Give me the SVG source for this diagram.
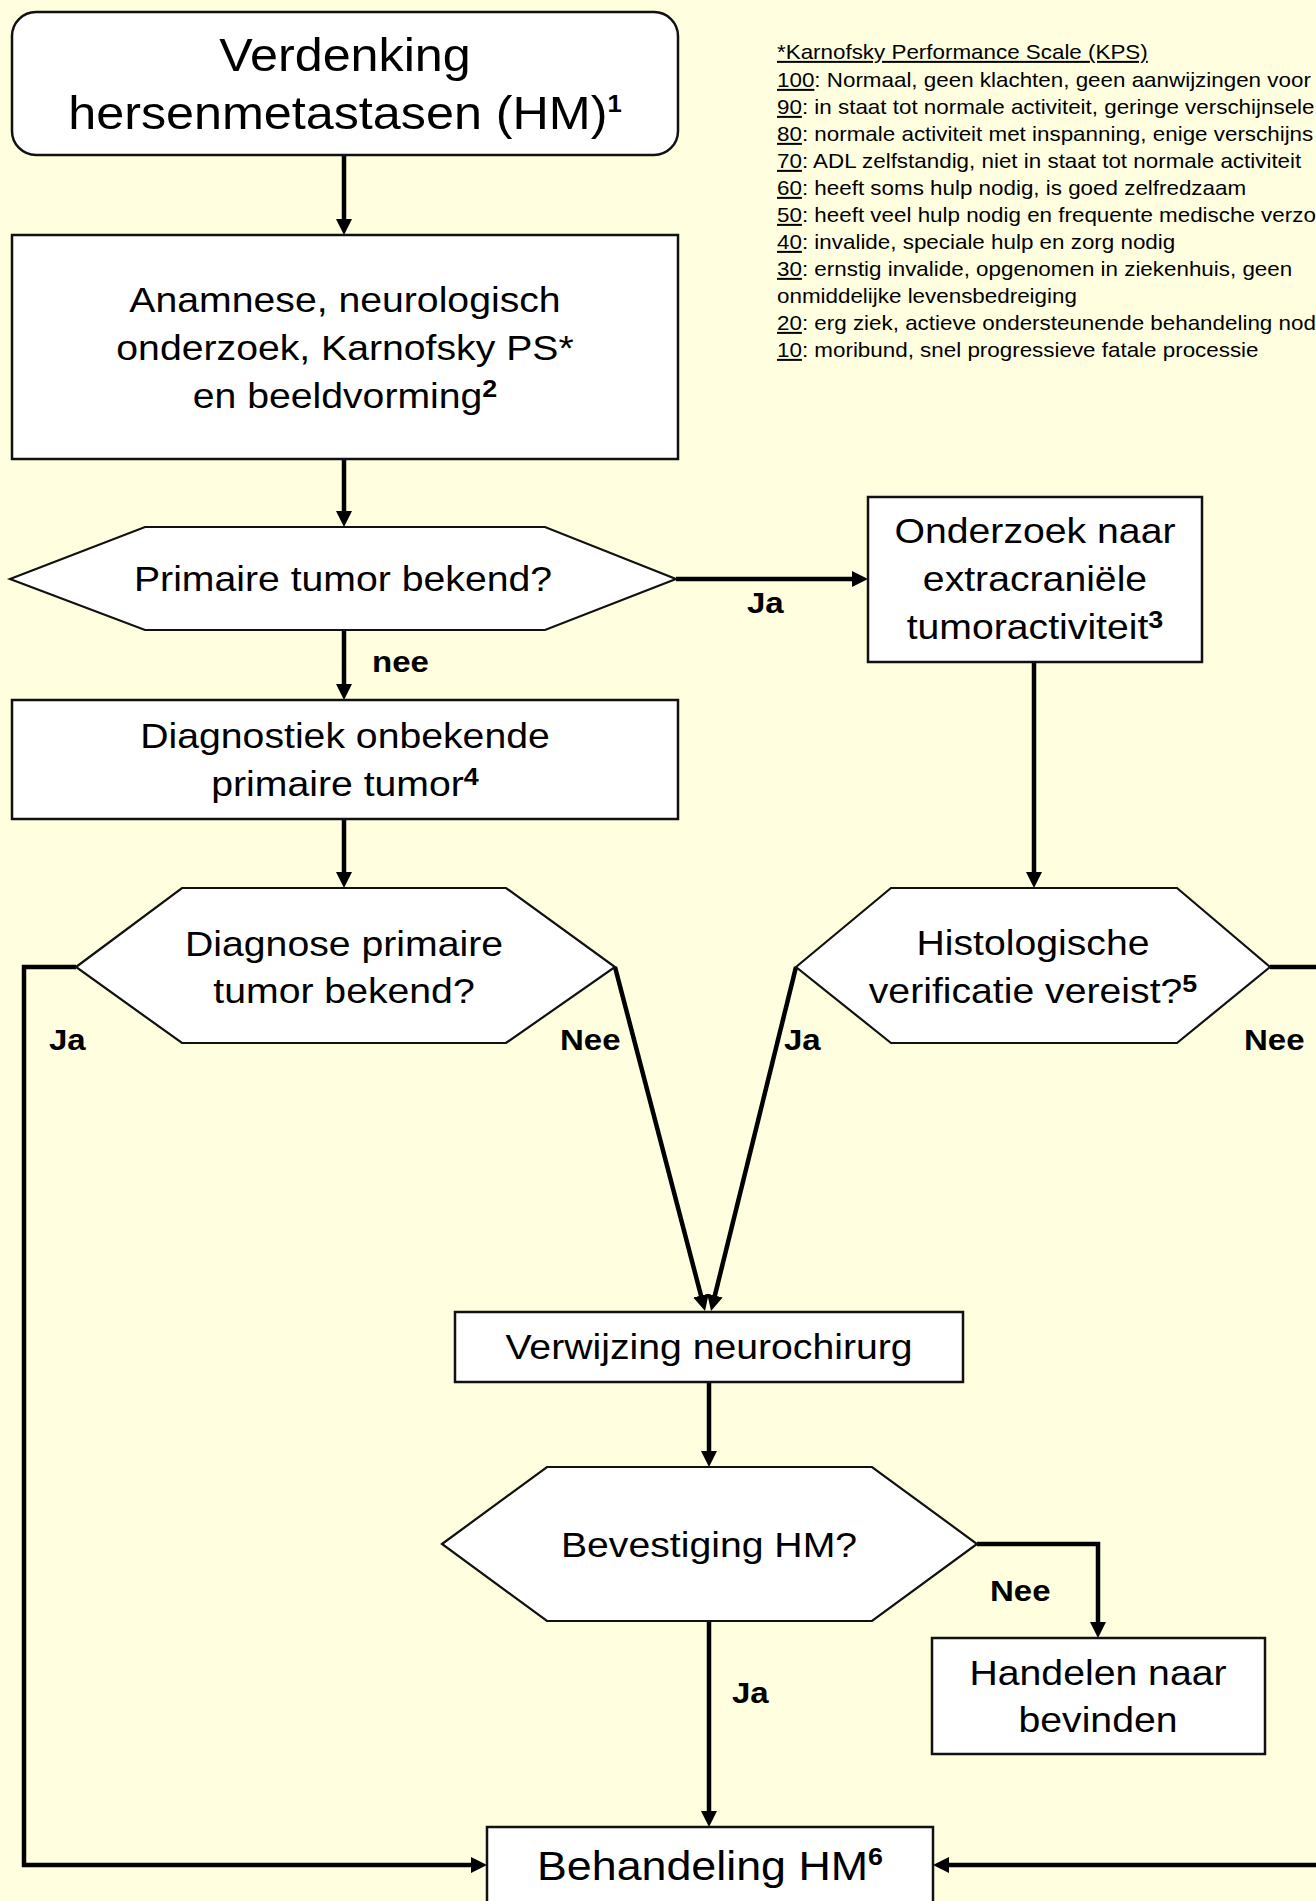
<svg xmlns="http://www.w3.org/2000/svg" width="1316" height="1901" viewBox="0 0 1316 1901">
<style>
.node{fill:#fff;stroke:#111;stroke-width:2.5}
.hex{fill:#fff;stroke:#111;stroke-width:2.2}
.t{font-family:"Liberation Sans",Arial,sans-serif;text-anchor:middle;fill:#000}
.big{font-size:47px}
.body{font-size:35px}
.beh{font-size:40px}
.sup{font-size:24px;font-weight:bold}
.lab{font-family:"Liberation Sans",Arial,sans-serif;font-weight:bold;font-size:29.5px;fill:#000}
.leg{font-family:"Liberation Sans",Arial,sans-serif;font-size:20px;fill:#000}
.u{text-decoration:underline;text-decoration-thickness:2.5px}
.conn{fill:none;stroke:#000;stroke-width:4.5;stroke-linejoin:miter}
</style>
<defs>
<marker id="ah" markerUnits="userSpaceOnUse" markerWidth="18" markerHeight="16" refX="2" refY="8" orient="auto">
<path d="M0,0 L16,8 L0,16 z" fill="#000"/>
</marker>
</defs>
<rect x="0" y="0" width="1316" height="1901" fill="#FFFFE0"/>

<g id="legend" transform="translate(777 0) scale(1.12 1)">
<text class="leg" x="0" y="59"><tspan class="u">*Karnofsky Performance Scale (KPS)</tspan></text>
<text class="leg" x="0" y="87"><tspan class="u">100</tspan>: Normaal, geen klachten, geen aanwijzingen voor</text>
<text class="leg" x="0" y="114"><tspan class="u">90</tspan>: in staat tot normale activiteit, geringe verschijnsele</text>
<text class="leg" x="0" y="141"><tspan class="u">80</tspan>: normale activiteit met inspanning, enige verschijns</text>
<text class="leg" x="0" y="168"><tspan class="u">70</tspan>: ADL zelfstandig, niet in staat tot normale activiteit</text>
<text class="leg" x="0" y="195"><tspan class="u">60</tspan>: heeft soms hulp nodig, is goed zelfredzaam</text>
<text class="leg" x="0" y="222"><tspan class="u">50</tspan>: heeft veel hulp nodig en frequente medische verzo</text>
<text class="leg" x="0" y="249"><tspan class="u">40</tspan>: invalide, speciale hulp en zorg nodig</text>
<text class="leg" x="0" y="276"><tspan class="u">30</tspan>: ernstig invalide, opgenomen in ziekenhuis, geen</text>
<text class="leg" x="0" y="303">onmiddelijke levensbedreiging</text>
<text class="leg" x="0" y="330"><tspan class="u">20</tspan>: erg ziek, actieve ondersteunende behandeling nod</text>
<text class="leg" x="0" y="357"><tspan class="u">10</tspan>: moribund, snel progressieve fatale processie</text>
</g>

<g id="connectors">
<path class="conn" d="M344,155 V221" marker-end="url(#ah)"/>
<path class="conn" d="M344,459 V513" marker-end="url(#ah)"/>
<path class="conn" d="M344,630 V686" marker-end="url(#ah)"/>
<path class="conn" d="M344,819 V874" marker-end="url(#ah)"/>
<path class="conn" d="M676,579 H854" marker-end="url(#ah)"/>
<path class="conn" d="M1034,662 V874" marker-end="url(#ah)"/>
<path class="conn" d="M76,967 H24 V1865 H473" marker-end="url(#ah)"/>
<path class="conn" d="M615,967 L701.5,1297.5" marker-end="url(#ah)"/>
<path class="conn" d="M796,967 L714.4,1297.4" marker-end="url(#ah)"/>
<path class="conn" d="M1270,967 H1340 V1865 H947" marker-end="url(#ah)"/>
<path class="conn" d="M709,1382 V1453" marker-end="url(#ah)"/>
<path class="conn" d="M977,1544 H1098 V1624" marker-end="url(#ah)"/>
<path class="conn" d="M709,1621 V1813" marker-end="url(#ah)"/>
<g id="labels">
<text class="lab" transform="translate(372 672) scale(1.12 1)">nee</text>
<text class="lab" transform="translate(747 613) scale(1.12 1)">Ja</text>
<text class="lab" transform="translate(49 1050) scale(1.12 1)">Ja</text>
<text class="lab" transform="translate(560 1050) scale(1.12 1)">Nee</text>
<text class="lab" transform="translate(784 1050) scale(1.12 1)">Ja</text>
<text class="lab" transform="translate(1244 1050) scale(1.12 1)">Nee</text>
<text class="lab" transform="translate(990 1601) scale(1.12 1)">Nee</text>
<text class="lab" transform="translate(732 1703) scale(1.12 1)">Ja</text>
</g>
</g>

<g id="n-verdenking">
<rect class="node" x="12" y="12" width="666" height="143" rx="24" ry="24"/>
<text class="t big" transform="translate(345 0) scale(1.07 1)"><tspan x="0" y="71">Verdenking</tspan><tspan x="0" y="129">hersenmetastasen (HM)<tspan font-size="24" font-weight="bold" dy="-17">1</tspan></tspan></text>
</g>

<g id="n-anamnese">
<rect class="node" x="12" y="235" width="666" height="224"/>
<text class="t body" transform="translate(345 0) scale(1.12 1)"><tspan x="0" y="312">Anamnese, neurologisch</tspan><tspan x="0" y="360">onderzoek, Karnofsky PS*</tspan><tspan x="0" y="408">en beeldvorming<tspan class="sup" dy="-11">2</tspan></tspan></text>
</g>

<g id="n-primaire">
<polygon class="hex" points="10,579 145,527 545,527 676,579 545,630 145,630"/>
<text class="t body" transform="translate(343 0) scale(1.12 1)"><tspan x="0" y="591">Primaire tumor bekend?</tspan></text>
</g>

<g id="n-onderzoek">
<rect class="node" x="868" y="497" width="334" height="165"/>
<text class="t body" transform="translate(1035 0) scale(1.12 1)"><tspan x="0" y="543">Onderzoek naar</tspan><tspan x="0" y="591">extracraniële</tspan><tspan x="0" y="639">tumoractiviteit<tspan class="sup" dy="-11">3</tspan></tspan></text>
</g>

<g id="n-diagnostiek">
<rect class="node" x="12" y="700" width="666" height="119"/>
<text class="t body" transform="translate(345 0) scale(1.12 1)"><tspan x="0" y="748">Diagnostiek onbekende</tspan><tspan x="0" y="796">primaire tumor<tspan class="sup" dy="-11">4</tspan></tspan></text>
</g>

<g id="n-diagnose">
<polygon class="hex" points="76,967 182,888 506,888 615,967 506,1043 182,1043"/>
<text class="t body" transform="translate(344 0) scale(1.12 1)"><tspan x="0" y="956">Diagnose primaire</tspan><tspan x="0" y="1003">tumor bekend?</tspan></text>
</g>

<g id="n-histologische">
<polygon class="hex" points="796,967 891,888 1177,888 1270,967 1177,1043 891,1043"/>
<text class="t body" transform="translate(1033 0) scale(1.12 1)"><tspan x="0" y="955">Histologische</tspan><tspan x="0" y="1003">verificatie vereist?<tspan class="sup" dy="-11">5</tspan></tspan></text>
</g>

<g id="n-verwijzing">
<rect class="node" x="455" y="1312" width="508" height="70"/>
<text class="t body" transform="translate(709 0) scale(1.12 1)"><tspan x="0" y="1359">Verwijzing neurochirurg</tspan></text>
</g>

<g id="n-bevestiging">
<polygon class="hex" points="442,1544 547,1467 872,1467 977,1544 872,1621 547,1621"/>
<text class="t body" transform="translate(709 0) scale(1.12 1)"><tspan x="0" y="1557">Bevestiging HM?</tspan></text>
</g>

<g id="n-handelen">
<rect class="node" x="932" y="1638" width="333" height="116"/>
<text class="t body" transform="translate(1098 0) scale(1.12 1)"><tspan x="0" y="1685">Handelen naar</tspan><tspan x="0" y="1732">bevinden</tspan></text>
</g>

<g id="n-behandeling">
<rect class="node" x="487" y="1827" width="446" height="100"/>
<text class="t beh" transform="translate(710 0) scale(1.12 1)"><tspan x="0" y="1880">Behandeling HM<tspan class="sup" dy="-15">6</tspan></tspan></text>
</g>
</svg>
